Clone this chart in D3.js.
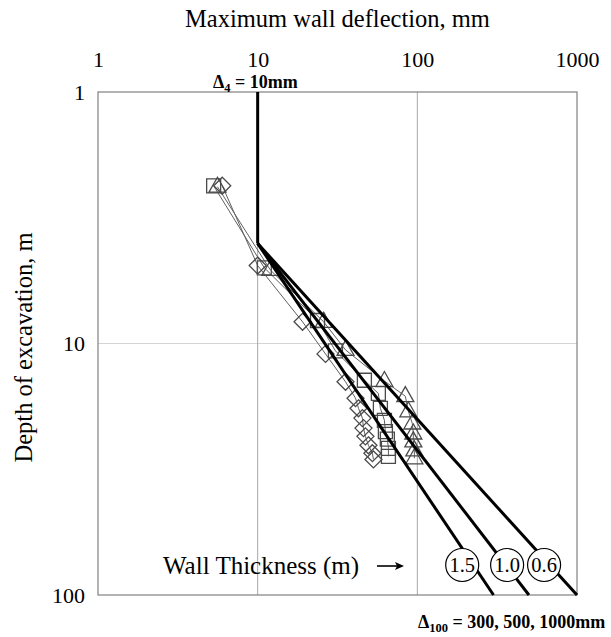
<!DOCTYPE html>
<html>
<head>
<meta charset="utf-8">
<script src="https://cdn.jsdelivr.net/npm/d3@7"></script>
<style>
  html, body { margin: 0; padding: 0; background: #fff; }
  svg { display: block; font-family: "Liberation Serif", "Times New Roman", serif; }
</style>
</head>
<body>
<svg id="chart" width="611" height="637"></svg>
<script>
// Axis ticks (log scales)
const xTicks = [1, 10, 100, 1000];
const yTicks = [1, 10, 100];

// Measured wall deflection (mm) versus excavation depth (m), three case histories
const diamondDefl  = [6.0, 10.0, 19.1, 26.6, 35.5, 41.0, 42.8, 45.3, 46.0, 47.3, 49.4, 52.3, 53.1];
const diamondDepth = [2.36, 4.9, 8.2, 11.0, 14.2, 16.5, 18.1, 19.8, 21.7, 23.4, 25.4, 27.3, 28.9];

const squareDefl   = [5.3, 11.0, 23.7, 30.7, 46.6, 57.0, 58.7, 62.2, 63.1, 64.9, 65.9, 65.9];
const squareDepth  = [2.36, 5.0, 8.1, 10.7, 14.0, 15.8, 18.1, 20.2, 22.4, 24.0, 26.1, 28.1];

const triangleDefl  = [5.6, 12.0, 25.9, 35.5, 62.2, 84.1, 87.9, 93.0, 94.4, 94.4, 95.8, 95.8];
const triangleDepth = [2.38, 5.1, 8.2, 10.6, 14.1, 16.2, 18.6, 20.8, 22.8, 24.5, 26.6, 28.6];

// Design envelope: 10 mm down to 4 m, then straight to the 100 m deflection per wall thickness
const envTopDepth = 1;
const envKinkDepth = 4;
const envKinkDefl = 10;
const envBottomDepth = 100;
const envBottomDefl = [300, 500, 1000];
const wallThickness = ["1.5", "1.0", "0.6"];
const labelDefl = [191, 365, 622];
const labelDepth = 76;

(function () {
  const svg = d3.select("#chart");
  const pLeft = 98, pRight = 577, pTop = 92, pBottom = 595;

  const x = d3.scaleLog().domain([1, 1000]).range([pLeft, pRight]);
  const y = d3.scaleLog().domain([1, 100]).range([pTop, pBottom]);

  // Grid lines
  svg.append("line")
    .attr("x1", pLeft).attr("x2", pRight)
    .attr("y1", y(10)).attr("y2", y(10))
    .attr("stroke", "#d4d4d4").attr("stroke-width", 1.2);
  [10, 100].forEach(v => {
    svg.append("line")
      .attr("x1", x(v)).attr("x2", x(v))
      .attr("y1", pTop).attr("y2", pBottom)
      .attr("stroke", "#a8a8a8").attr("stroke-width", 1);
  });

  // Plot frame
  svg.append("rect")
    .attr("x", pLeft).attr("y", pTop)
    .attr("width", pRight - pLeft).attr("height", pBottom - pTop)
    .attr("fill", "none").attr("stroke", "#808080").attr("stroke-width", 1.2);

  // Top axis labels
  const xAxis = d3.axisTop(x).tickValues(xTicks).tickFormat(d3.format("d")).tickSize(0).tickPadding(0);
  const gx = svg.append("g").attr("transform", "translate(0, 67)").call(xAxis);
  gx.select(".domain").remove();
  gx.selectAll("text").attr("font-size", 22).attr("font-family", "Liberation Serif").attr("fill", "#000").attr("dy", 0);

  // Left axis labels
  const yAxis = d3.axisLeft(y).tickValues(yTicks).tickFormat(d3.format("d")).tickSize(0).tickPadding(0);
  const gy = svg.append("g").attr("transform", "translate(85, 0)").call(yAxis);
  gy.select(".domain").remove();
  gy.selectAll("text").attr("font-size", 22).attr("font-family", "Liberation Serif").attr("fill", "#000");

  // Axis titles
  svg.append("text")
    .attr("x", (pLeft + pRight) / 2).attr("y", 27)
    .attr("text-anchor", "middle").attr("font-size", 24.5)
    .text("Maximum wall deflection, mm");
  svg.append("text")
    .attr("transform", `translate(32, ${(pTop + pBottom) / 2 + 4}) rotate(-90)`)
    .attr("text-anchor", "middle").attr("font-size", 24.5)
    .text("Depth of excavation, m");

  // Series connecting lines
  const line = d3.line().x(d => x(d[0])).y(d => y(d[1]));
  const series = [
    { defl: diamondDefl, depth: diamondDepth, shape: "diamond" },
    { defl: squareDefl, depth: squareDepth, shape: "square" },
    { defl: triangleDefl, depth: triangleDepth, shape: "triangle" }
  ];
  series.forEach(s => {
    const pts = s.defl.map((d, i) => [d, s.depth[i]]);
    svg.append("path").datum(pts)
      .attr("d", line)
      .attr("fill", "none").attr("stroke", "#606060").attr("stroke-width", 1);
  });

  // Markers
  const shapes = {
    square: "M-7,-7H7V7H-7Z",
    diamond: "M0,-8.5L8.5,0L0,8.5L-8.5,0Z",
    triangle: "M0,-9.5L8.5,5.5L-8.5,5.5Z"
  };
  series.forEach(s => {
    svg.append("g").selectAll("path")
      .data(s.defl.map((d, i) => [d, s.depth[i]]))
      .join("path")
      .attr("transform", d => `translate(${x(d[0])},${y(d[1])})`)
      .attr("d", shapes[s.shape])
      .attr("fill", "none").attr("stroke", "#4a4a4a").attr("stroke-width", 1.3);
  });

  // Envelope lines
  svg.append("line")
    .attr("x1", x(envKinkDefl)).attr("x2", x(envKinkDefl))
    .attr("y1", y(envTopDepth)).attr("y2", y(envKinkDepth))
    .attr("stroke", "#000").attr("stroke-width", 3);
  envBottomDefl.forEach(v => {
    svg.append("line")
      .attr("x1", x(envKinkDefl)).attr("y1", y(envKinkDepth))
      .attr("x2", x(v)).attr("y2", y(envBottomDepth))
      .attr("stroke", "#000").attr("stroke-width", 3);
  });

  // Wall thickness labels
  wallThickness.forEach((t, i) => {
    const cx = x(labelDefl[i]), cy = y(labelDepth);
    svg.append("circle").attr("cx", cx).attr("cy", cy).attr("r", 16.5)
      .attr("fill", "#fff").attr("stroke", "#000").attr("stroke-width", 1.2);
    svg.append("text").attr("x", cx).attr("y", cy + 7)
      .attr("text-anchor", "middle").attr("font-size", 20.5).text(t);
  });
  svg.append("text").attr("x", 163).attr("y", 574)
    .attr("font-size", 25).text("Wall Thickness (m)");
  // Pointer arrow
  const arrowY = 566;
  svg.append("line")
    .attr("x1", 377).attr("x2", 398).attr("y1", arrowY).attr("y2", arrowY)
    .attr("stroke", "#000").attr("stroke-width", 1.6);
  svg.append("path")
    .attr("d", `M404,${arrowY}L395,${arrowY - 4}L397,${arrowY}L395,${arrowY + 4}Z`)
    .attr("fill", "#000");

  // Annotations
  const a4 = svg.append("text").attr("x", 213).attr("y", 88)
    .attr("font-size", 18).attr("font-weight", "bold");
  a4.append("tspan").text("\u0394");
  a4.append("tspan").attr("font-size", 12.5).attr("dy", 4).text("4");
  a4.append("tspan").attr("dy", -4).text(" = 10mm");

  const a100 = svg.append("text").attr("x", 418).attr("y", 628)
    .attr("font-size", 18).attr("font-weight", "bold");
  a100.append("tspan").text("\u0394");
  a100.append("tspan").attr("font-size", 12.5).attr("dy", 4).text("100");
  a100.append("tspan").attr("dy", -4).text(" = 300, 500, 1000mm");
})();
</script>
</body>
</html>
